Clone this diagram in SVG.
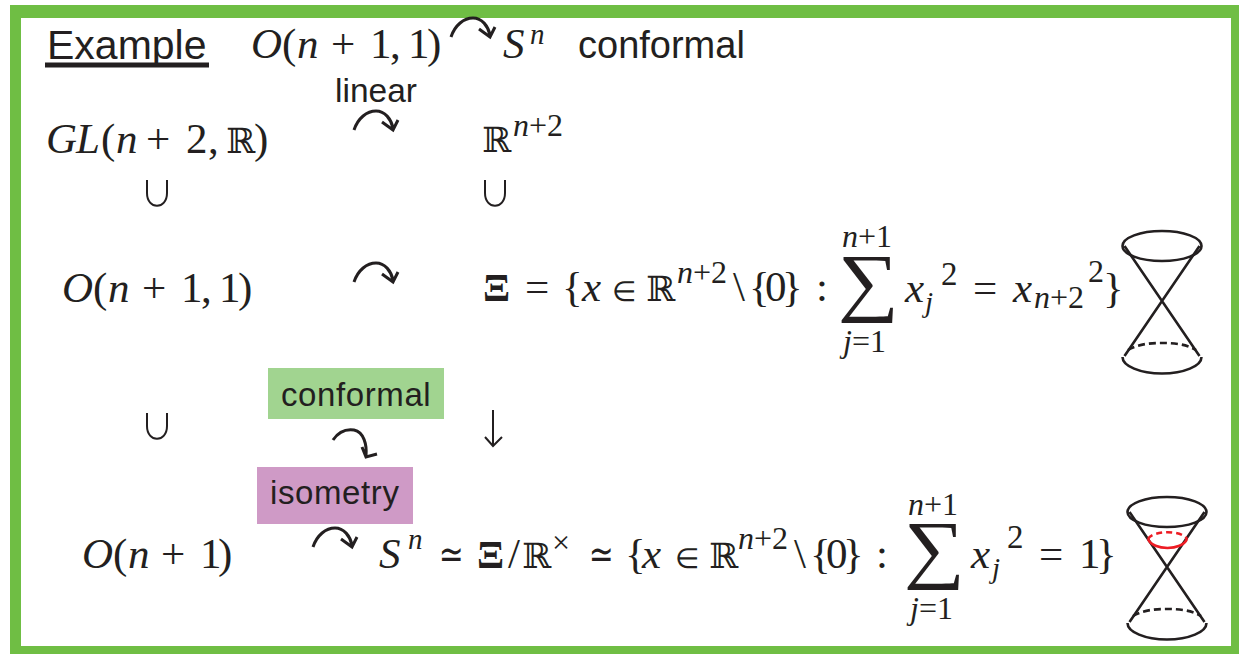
<svg xmlns="http://www.w3.org/2000/svg" width="1239" height="654" viewBox="0 0 1239 654">
<style>
text{fill:#231f20}
.s{font-family:"Liberation Sans",Arial,sans-serif;font-size:38px}
.m{font-family:"Liberation Serif","Times New Roman",serif;font-size:43px}
.i{font-style:italic}
.u{font-size:32px}
.e{font-size:29px}
.d{font-family:"DejaVu Serif",serif;font-size:35px}
.b{font-size:33px}
.g{font-size:76px}
.x{font-size:40px;font-weight:bold}
.q{font-family:"DejaVu Sans",sans-serif;font-size:27px}
.k{fill:none;stroke:#231f20;stroke-width:3}
.c{fill:none;stroke:#231f20;stroke-width:2.6}
.cn{fill:none;stroke:#231f20;stroke-width:2.6;stroke-dasharray:7 4}
.r{fill:none;stroke:#ed1c24;stroke-width:2.6}
.rd{fill:none;stroke:#ed1c24;stroke-width:2.6;stroke-dasharray:6 4}
.l{font-size:33px;letter-spacing:.6px}
</style>
<defs>
<g id="arc"><path class="k" d="M-1 16C3 4 12 -3 21 -3C30 -3 36 5 38 14M27 8L38 16L43 6"/></g>
<g id="cup"><path d="M0 0V13C0 30 20 30 20 13V0" fill="none" stroke="#231f20" stroke-width="2"/></g>
<g id="cone"><ellipse class="c" cx="40" cy="15" rx="39.500" ry="15"/><path class="c" d="M2.500 15L77.500 125M77.500 15L2.500 125"/><path class="c" d="M0.500 126A39.500 16.500 0 0 0 79.500 126"/><path class="cn" d="M6 119C16 113 28 112 40 112C52 112 64 113 74 119"/></g>
</defs>
<path id="frame" d="M10 5H1239V654H10ZM21 18V646H1231V18Z" fill="#6fbe44" fill-rule="evenodd"/>
<g id="connectors">
<use href="#arc" x="452" y="21"/>
<use href="#arc" x="355" y="114"/>
<use href="#arc" x="355" y="266"/>
<path class="k" d="M333 440C339 431 347 429 354 430C364 432 367 445 366 456M362 447L366 457L377 454"/>
<use href="#arc" x="314" y="531"/>
<path d="M493 410V446M485 437L493 446L502 437" fill="none" stroke="#231f20" stroke-width="2"/>
</g>
<g id="title"><text class="s" x="47" y="59" style="font-size:41px">Example</text><rect x="45" y="62.500" width="164" height="5" fill="#231f20"/></g>
<g id="top-group"><text class="m" x="251 282 297 331 370 390 408 427" y="58"><tspan class="i">O</tspan>(<tspan class="i">n</tspan>+1,1)</text></g>
<g id="top-sphere"><text class="m i" x="503" y="58">S</text><text class="m i e" x="530" y="44">n</text><text class="s" x="578" y="58">conformal</text></g>
<g id="linear-label"><text class="s" x="335" y="102" style="font-size:33.500px">linear</text></g>
<g id="gl"><text class="m" x="46 76 101 116 146 186 208" y="153"><tspan class="i">GL</tspan>(<tspan class="i">n</tspan>+2,</text><text class="d" x="226" y="153">ℝ</text><text class="m" x="254" y="153">)</text></g>
<g id="rn2"><text class="d" x="482" y="152">ℝ</text><text class="m u" x="513" y="136"><tspan class="i">n</tspan>+2</text></g>
<g id="cup1"><use href="#cup" x="147" y="180"/></g>
<g id="cup2"><use href="#cup" x="485" y="180"/></g>
<g id="cup3"><use href="#cup" x="147" y="413"/></g>
<g id="o11"><text class="m" x="62 93 108 142 181 201 219 238" y="302"><tspan class="i">O</tspan>(<tspan class="i">n</tspan>+1,1)</text></g>
<g id="xi">
<text class="m x" x="483" y="301">Ξ</text>
<text class="m" x="525" y="301">=</text>
<text class="m" x="562" y="301">{</text>
<text class="m i" x="582" y="301">x</text>
<text class="m" x="612" y="301" style="font-size:28px">∈</text>
<text class="d" x="646" y="301">ℝ</text>
<text class="m u" x="677" y="283"><tspan class="i">n</tspan>+2</text>
<text class="m" x="733 749 765 782" y="301">\{0}</text>
<text class="m" x="816" y="301">:</text>
<text class="m u" x="842" y="247"><tspan class="i">n</tspan>+1</text>
<text class="m g" transform="translate(838 307) scale(1.13 1)">∑</text>
<text class="m u" x="843" y="352"><tspan class="i">j</tspan>=1</text>
<text class="m i" x="905" y="302">x</text><text class="m i e" x="925" y="312">j</text><text class="m b" x="941" y="285">2</text>
<text class="m" x="973" y="302">=</text>
<text class="m i" x="1013" y="302">x</text><text class="m u" x="1034" y="308"><tspan class="i">n</tspan>+2</text><text class="m u" x="1088" y="282">2</text><text class="m" x="1103" y="302">}</text>
</g>
<g id="cone1"><use href="#cone" x="1122" y="231"/></g>
<g id="conformal-box"><rect x="268" y="368" width="176" height="51" fill="#a1d490"/><text class="s l" x="281" y="406">conformal</text></g>
<g id="isometry-box"><rect x="257" y="467" width="156" height="57" fill="#cf9ac6"/><text class="s l" x="270" y="504">isometry</text></g>
<g id="o1"><text class="m" x="82 113 128 161 200 218" y="568"><tspan class="i">O</tspan>(<tspan class="i">n</tspan>+1)</text></g>
<g id="sphere-eq">
<text class="m i" x="379" y="568">S</text><text class="m i e" x="408" y="549">n</text>
<text class="q" transform="translate(439 568) scale(1.1 1.5)">≃</text>
<text class="m x" x="477" y="568">Ξ</text>
<text class="m" x="508" y="568">/</text>
<text class="d" x="522" y="568">ℝ</text><text class="m u" x="552" y="553">×</text>
<text class="q" transform="translate(589 568) scale(1.1 1.5)">≃</text>
<text class="m" x="625" y="568">{</text>
<text class="m i" x="642" y="568">x</text>
<text class="m" x="675" y="568" style="font-size:28px">∈</text>
<text class="d" x="709" y="568">ℝ</text>
<text class="m u" x="738" y="549"><tspan class="i">n</tspan>+2</text>
<text class="m" x="794 810 826 843" y="568">\{0}</text>
<text class="m" x="876" y="568">:</text>
<text class="m u" x="908" y="515"><tspan class="i">n</tspan>+1</text>
<text class="m g" transform="translate(904 574) scale(1.13 1)">∑</text>
<text class="m u" x="910" y="619"><tspan class="i">j</tspan>=1</text>
<text class="m i" x="971" y="568">x</text><text class="m i e" x="992" y="578">j</text><text class="m b" x="1007" y="548">2</text>
<text class="m" x="1039" y="568">=</text>
<text class="m" x="1079 1096" y="568">1}</text>
</g>
<g id="cone2"><use href="#cone" x="1127" y="497"/><path class="r" d="M1148 539C1153 551 1182 551 1187 539"/><path class="rd" d="M1148 539C1153 530 1182 530 1187 539"/></g>
</svg>
